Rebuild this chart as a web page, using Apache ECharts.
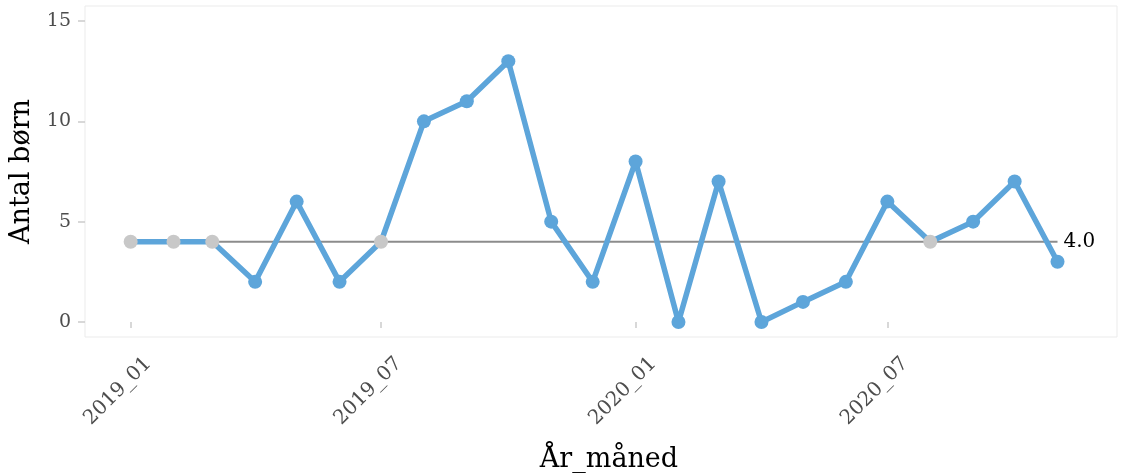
<!DOCTYPE html>
<html>
<head>
<meta charset="utf-8">
<script src="https://cdn.jsdelivr.net/npm/echarts@6/dist/echarts.min.js"></script>
<style>html,body{margin:0;padding:0;background:#fff}#c{width:1125px;height:473px}</style>
</head>
<body>
<div id="c"></div>
<script>
const months = ["2019-01","2019-02","2019-03","2019-04","2019-05","2019-06","2019-07","2019-08","2019-09","2019-10","2019-11","2019-12",
"2020-01","2020-02","2020-03","2020-04","2020-05","2020-06","2020-07","2020-08","2020-09","2020-10","2020-11"];
const counts = [4,4,4,2,6,2,4,10,11,13,5,2,8,0,7,0,1,2,6,4,5,7,3];
const median = 4;
const xTickMonths = ["2019-01","2019-07","2020-01","2020-07"];
const yTicks = [0,5,10,15];

const ts = m => Date.UTC(+m.slice(0,4), +m.slice(5,7)-1, 1);
const FONT = "DejaVu Serif";
const pts = months.map((m,i)=>({
  value:[ts(m), counts[i]],
  itemStyle:{color: counts[i]===median ? '#c8c8c8' : '#5da5da'}
}));
const xTicks = xTickMonths.map(ts);
const fmt = v => { const d=new Date(v); return d.getUTCFullYear()+'_'+String(d.getUTCMonth()+1).padStart(2,'0'); };

const chart = echarts.init(document.getElementById('c'), null, {renderer:'canvas'});
chart.setOption({
  animation:false,
  grid:{left:85, right:8, top:6, bottom:136, containLabel:false, outerBoundsMode:'none', show:true, borderColor:'#ebebeb', borderWidth:1, backgroundColor:'#fff'},
  xAxis:{
    type:'value',
    min: Date.UTC(2018,10,29), max: Date.UTC(2020,11,14),
    name:'År_måned', nameLocation:'middle', nameGap:97,
    nameTextStyle:{fontFamily:FONT, fontSize:27, color:'#000', padding:[0,0,0,16]},
    axisLine:{show:false},
    splitLine:{show:false},
    axisTick:{show:true, customValues:xTicks, length:6, lineStyle:{color:'#cccccc', width:1.5}},
    axisLabel:{customValues:xTicks, formatter:fmt, rotate:45, verticalAlign:'top', lineHeight:50, fontFamily:FONT, fontSize:20, color:'#4d4d4d', margin:6}
  },
  yAxis:{
    type:'value', min:-0.75, max:15.75,
    name:'Antal børn', nameLocation:'middle', nameGap:44,
    nameTextStyle:{fontFamily:FONT, fontSize:27, color:'#000'},
    axisLine:{show:false},
    splitLine:{show:false},
    axisTick:{show:true, customValues:yTicks, length:7, lineStyle:{color:'#cccccc', width:1.5}},
    axisLabel:{customValues:yTicks, fontFamily:FONT, fontSize:19, color:'#4d4d4d', margin:14}
  },
  series:[
    {
      type:'line', data:[[ts(months[0]),median],[ts(months[months.length-1]),median]],
      symbol:'none', lineStyle:{color:'#8c8c8c', width:2}, z:1,
      endLabel:{show:true, formatter:()=>median.toFixed(1), fontFamily:FONT, fontSize:20, color:'#000', distance:6}
    },
    {
      type:'line', data:pts, symbol:'circle', symbolSize:14,
      lineStyle:{color:'#5da5da', width:5.5}, z:2
    }
  ]
});
</script>
</body>
</html>
